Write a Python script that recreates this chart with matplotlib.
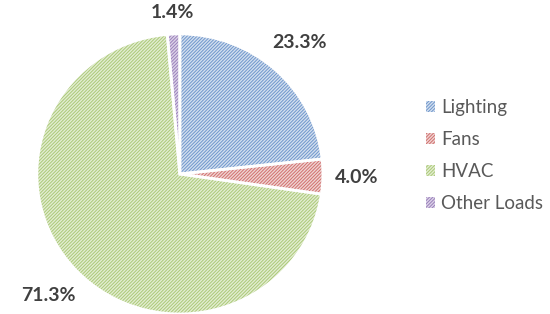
import matplotlib
matplotlib.use("Agg")
import numpy as np
import matplotlib.pyplot as plt

plt.rcParams["font.family"] = ["Lato", "DejaVu Sans"]
plt.rcParams["hatch.linewidth"] = 0.7

categories = ["Lighting", "Fans", "HVAC", "Other Loads"]
shares = [23.3, 4.0, 71.3, 1.4]
line_colors = ["#6F96CB", "#D0706E", "#ABC977", "#9980BA"]
fill_colors = ["#D3DFEF", "#F0D4D3", "#E3EDD2", "#DDD3E8"]

fig = plt.figure(figsize=(5.5, 3.14), dpi=100)
ax = fig.add_axes([0.067, 0.0, 0.52, 0.892])

wedges, texts, autotexts = ax.pie(
    shares, startangle=90, counterclock=False,
    colors=fill_colors, autopct="%.1f%%",
    wedgeprops=dict(linewidth=0),
    textprops=dict(fontsize=14, fontweight="bold", color="#404040"),
)
for w, c in zip(wedges, line_colors):
    w.set_hatch("//////////")
    w.set_edgecolor(c)

# white separators between slices
ax.pie(shares, startangle=90, counterclock=False,
       colors=["none"] * len(shares),
       wedgeprops=dict(linewidth=2, edgecolor="white"))
ax.set_aspect("auto")
ax.set_xlim(-1.0, 1.0)
ax.set_ylim(-1.0, 1.0)

# put each label just outside its slice, like "outside end"
fig.canvas.draw()
renderer = fig.canvas.get_renderer()
rx = ax.bbox.width / 2
ry = ax.bbox.height / 2
gap = 12
for t, w in zip(autotexts, wedges):
    th = np.deg2rad((w.theta1 + w.theta2) / 2)
    bb = t.get_window_extent(renderer)
    extra = gap + bb.width / 2 * abs(np.cos(th)) + bb.height / 2 * abs(np.sin(th))
    px = rx * np.cos(th) + extra * np.cos(th)
    py = ry * np.sin(th) + extra * np.sin(th)
    t.set_position((px / rx, py / ry))
    t.set_clip_on(False)

leg = ax.legend(wedges, categories, loc="center left",
                bbox_to_anchor=(0.744, 0.505), bbox_transform=fig.transFigure,
                frameon=False, fontsize=13.5, handlelength=0.5,
                handleheight=0.5, handletextpad=0.3, labelspacing=0.8)
for t in leg.get_texts():
    t.set_color("#595959")

fig.savefig("out.png", dpi=100)
